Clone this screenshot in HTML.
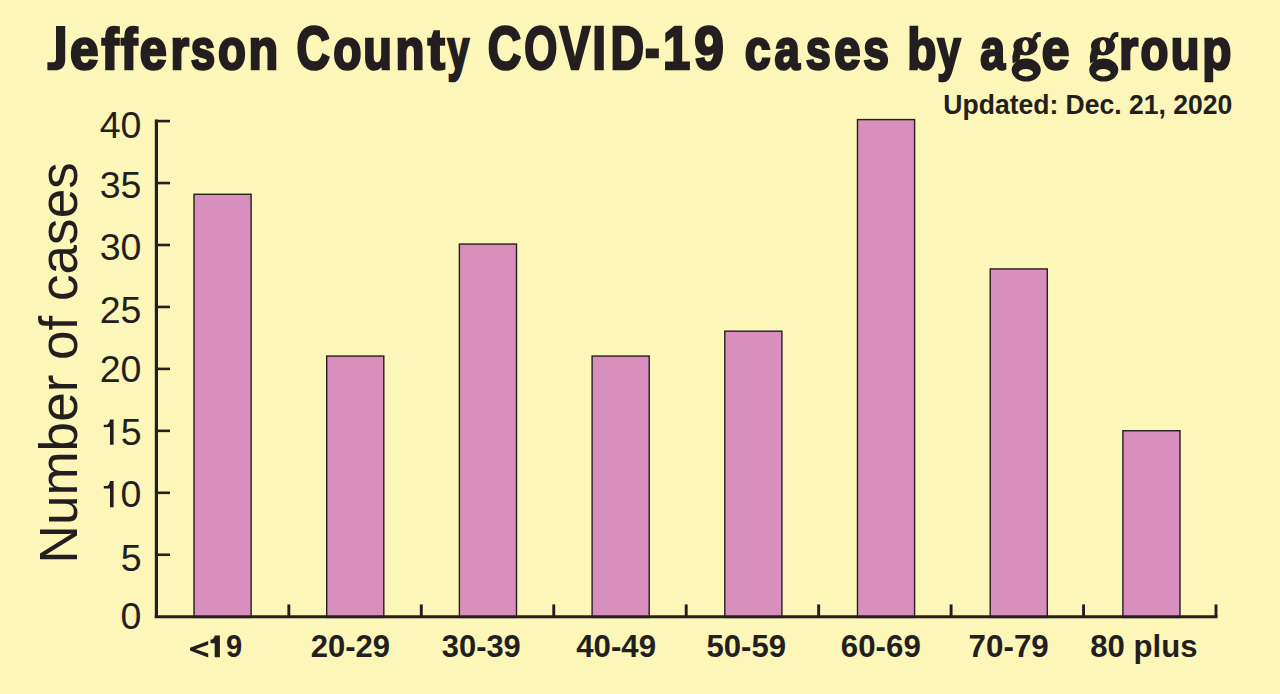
<!DOCTYPE html>
<html><head><meta charset="utf-8"><style>
html,body{margin:0;padding:0;background:#FCF6B8;width:1280px;height:694px;overflow:hidden}
svg{display:block;font-family:"Liberation Sans",sans-serif}
</style></head><body>
<svg width="1280" height="694" viewBox="0 0 1280 694">
<rect width="1280" height="694" fill="#FCF6B8"/>
<rect x="194.00" y="194.27" width="57.10" height="423.13" fill="#D98FBD" stroke="#231F20" stroke-width="1.4"/>
<rect x="326.70" y="356.06" width="57.10" height="261.35" fill="#D98FBD" stroke="#231F20" stroke-width="1.4"/>
<rect x="459.40" y="244.05" width="57.10" height="373.35" fill="#D98FBD" stroke="#231F20" stroke-width="1.4"/>
<rect x="592.10" y="356.06" width="57.10" height="261.35" fill="#D98FBD" stroke="#231F20" stroke-width="1.4"/>
<rect x="724.80" y="331.17" width="57.10" height="286.24" fill="#D98FBD" stroke="#231F20" stroke-width="1.4"/>
<rect x="857.50" y="119.60" width="57.10" height="497.80" fill="#D98FBD" stroke="#231F20" stroke-width="1.4"/>
<rect x="990.20" y="268.94" width="57.10" height="348.46" fill="#D98FBD" stroke="#231F20" stroke-width="1.4"/>
<rect x="1122.90" y="430.73" width="57.10" height="186.68" fill="#D98FBD" stroke="#231F20" stroke-width="1.4"/>
<path d="M156.40,119.60 V618.10" stroke="#231F20" stroke-width="3.2" fill="none"/>
<path d="M154.80,616.70 H1217.50" stroke="#231F20" stroke-width="2.9" fill="none"/>
<path d="M156.40,554.75 H170" stroke="#231F20" stroke-width="2.6" fill="none"/>
<path d="M156.40,492.80 H170" stroke="#231F20" stroke-width="2.6" fill="none"/>
<path d="M156.40,430.85 H170" stroke="#231F20" stroke-width="2.6" fill="none"/>
<path d="M156.40,368.90 H170" stroke="#231F20" stroke-width="2.6" fill="none"/>
<path d="M156.40,306.95 H170" stroke="#231F20" stroke-width="2.6" fill="none"/>
<path d="M156.40,245.00 H170" stroke="#231F20" stroke-width="2.6" fill="none"/>
<path d="M156.40,183.05 H170" stroke="#231F20" stroke-width="2.6" fill="none"/>
<path d="M156.40,121.10 H170" stroke="#231F20" stroke-width="2.6" fill="none"/>
<path d="M288.85,604.4 V616.70" stroke="#231F20" stroke-width="2.9" fill="none"/>
<path d="M421.30,604.4 V616.70" stroke="#231F20" stroke-width="2.9" fill="none"/>
<path d="M553.75,604.4 V616.70" stroke="#231F20" stroke-width="2.9" fill="none"/>
<path d="M686.20,604.4 V616.70" stroke="#231F20" stroke-width="2.9" fill="none"/>
<path d="M818.65,604.4 V616.70" stroke="#231F20" stroke-width="2.9" fill="none"/>
<path d="M951.10,604.4 V616.70" stroke="#231F20" stroke-width="2.9" fill="none"/>
<path d="M1083.55,604.4 V616.70" stroke="#231F20" stroke-width="2.9" fill="none"/>
<path d="M1216.00,604.4 V616.70" stroke="#231F20" stroke-width="2.9" fill="none"/>
<text transform="translate(70.11,68.75) scale(0.8885,1)" font-size="57.8" font-weight="bold" fill="#231F20" stroke="#231F20" stroke-width="2.6">e</text>
<text transform="translate(101.49,68.75) scale(0.8908,1)" font-size="57.8" font-weight="bold" fill="#231F20" stroke="#231F20" stroke-width="2.6">f</text>
<text transform="translate(120.82,68.75) scale(0.8643,1)" font-size="57.8" font-weight="bold" fill="#231F20" stroke="#231F20" stroke-width="2.6">f</text>
<text transform="translate(139.76,68.75) scale(0.8410,1)" font-size="57.8" font-weight="bold" fill="#231F20" stroke="#231F20" stroke-width="2.6">e</text>
<text transform="translate(170.44,68.75) scale(0.8244,1)" font-size="57.8" font-weight="bold" fill="#231F20" stroke="#231F20" stroke-width="2.6">r</text>
<text transform="translate(190.87,68.75) scale(0.7590,1)" font-size="57.8" font-weight="bold" fill="#231F20" stroke="#231F20" stroke-width="2.6">s</text>
<text transform="translate(217.96,68.75) scale(0.7895,1)" font-size="57.8" font-weight="bold" fill="#231F20" stroke="#231F20" stroke-width="2.6">o</text>
<text transform="translate(248.50,68.75) scale(0.8410,1)" font-size="57.8" font-weight="bold" fill="#231F20" stroke="#231F20" stroke-width="2.6">n</text>
<text transform="translate(296.56,68.75) scale(0.7558,1)" font-size="61.2" font-weight="bold" fill="#231F20" stroke="#231F20" stroke-width="2.6">C</text>
<text transform="translate(333.20,68.75) scale(0.8000,1)" font-size="57.8" font-weight="bold" fill="#231F20" stroke="#231F20" stroke-width="2.6">o</text>
<text transform="translate(363.17,68.75) scale(0.8130,1)" font-size="57.8" font-weight="bold" fill="#231F20" stroke="#231F20" stroke-width="2.6">u</text>
<text transform="translate(395.45,68.75) scale(0.8197,1)" font-size="57.8" font-weight="bold" fill="#231F20" stroke="#231F20" stroke-width="2.6">n</text>
<text transform="translate(427.68,68.75) scale(0.8908,1)" font-size="57.8" font-weight="bold" fill="#231F20" stroke="#231F20" stroke-width="2.6">t</text>
<text transform="translate(447.55,68.75) scale(0.6761,1)" font-size="57.8" font-weight="bold" fill="#231F20" stroke="#231F20" stroke-width="2.6">y</text>
<text transform="translate(487.81,68.75) scale(0.7558,1)" font-size="61.2" font-weight="bold" fill="#231F20" stroke="#231F20" stroke-width="2.6">C</text>
<text transform="translate(524.13,68.75) scale(0.6944,1)" font-size="61.2" font-weight="bold" fill="#231F20" stroke="#231F20" stroke-width="2.6">O</text>
<text transform="translate(559.86,68.75) scale(0.7429,1)" font-size="61.2" font-weight="bold" fill="#231F20" stroke="#231F20" stroke-width="2.6">V</text>
<text transform="translate(592.16,68.75) scale(0.8130,1)" font-size="61.2" font-weight="bold" fill="#231F20" stroke="#231F20" stroke-width="2.6">I</text>
<text transform="translate(610.41,68.75) scale(0.7602,1)" font-size="61.2" font-weight="bold" fill="#231F20" stroke="#231F20" stroke-width="2.6">D</text>
<text transform="translate(644.88,68.75) scale(0.7205,1)" font-size="61.2" font-weight="bold" fill="#231F20" stroke="#231F20" stroke-width="2.6">-</text>
<text transform="translate(663.00,68.75) scale(0.8000,1)" font-size="61.2" font-weight="bold" fill="#231F20" stroke="#231F20" stroke-width="2.6">1</text>
<text transform="translate(694.35,68.75) scale(0.8713,1)" font-size="61.2" font-weight="bold" fill="#231F20" stroke="#231F20" stroke-width="2.6">9</text>
<text transform="translate(744.79,68.75) scale(0.8065,1)" font-size="57.8" font-weight="bold" fill="#231F20" stroke="#231F20" stroke-width="2.6">c</text>
<text transform="translate(774.61,68.75) scale(0.7895,1)" font-size="57.8" font-weight="bold" fill="#231F20" stroke="#231F20" stroke-width="2.6">a</text>
<text transform="translate(805.86,68.75) scale(0.7787,1)" font-size="57.8" font-weight="bold" fill="#231F20" stroke="#231F20" stroke-width="2.6">s</text>
<text transform="translate(834.18,68.75) scale(0.8197,1)" font-size="57.8" font-weight="bold" fill="#231F20" stroke="#231F20" stroke-width="2.6">e</text>
<text transform="translate(863.35,68.75) scale(0.7984,1)" font-size="57.8" font-weight="bold" fill="#231F20" stroke="#231F20" stroke-width="2.6">s</text>
<text transform="translate(907.34,68.75) scale(0.8252,1)" font-size="57.8" font-weight="bold" fill="#231F20" stroke="#231F20" stroke-width="2.6">b</text>
<text transform="translate(937.34,68.75) scale(0.7277,1)" font-size="57.8" font-weight="bold" fill="#231F20" stroke="#231F20" stroke-width="2.6">y</text>
<text transform="translate(980.21,68.75) scale(0.7714,1)" font-size="57.8" font-weight="bold" fill="#231F20" stroke="#231F20" stroke-width="2.6">a</text>
<text transform="translate(1041.64,68.75) scale(0.8607,1)" font-size="57.8" font-weight="bold" fill="#231F20" stroke="#231F20" stroke-width="2.6">e</text>
<text transform="translate(1119.12,68.75) scale(0.8537,1)" font-size="57.8" font-weight="bold" fill="#231F20" stroke="#231F20" stroke-width="2.6">r</text>
<text transform="translate(1140.46,68.75) scale(0.7895,1)" font-size="57.8" font-weight="bold" fill="#231F20" stroke="#231F20" stroke-width="2.6">o</text>
<text transform="translate(1170.67,68.75) scale(0.8130,1)" font-size="57.8" font-weight="bold" fill="#231F20" stroke="#231F20" stroke-width="2.6">u</text>
<text transform="translate(1202.34,68.75) scale(0.8252,1)" font-size="57.8" font-weight="bold" fill="#231F20" stroke="#231F20" stroke-width="2.6">p</text>
<path fill="#231F20" d="M56,26.0 L65.2,26.0 L65.2,59.5 Q65.2,70.3 55,70.3 L47.4,70.3 L47.4,62.2 L53.2,62.2 Q56,62.2 56,58.8 Z"/>
<path fill="#231F20" fill-rule="nonzero" d="M1090.95,46.15 A12.05,9.25 0 1,0 1115.05,46.15 A12.05,9.25 0 1,0 1090.95,46.15 Z M1099.70,46.15 A3.25,6.05 0 1,1 1106.20,46.15 A3.25,6.05 0 1,1 1099.70,46.15 Z M1089.20,70.10 A14.55,11.50 0 1,0 1118.30,70.10 A14.55,11.50 0 1,0 1089.20,70.10 Z M1096.10,72.75 A7.25,3.65 0 1,1 1110.60,72.75 A7.25,3.65 0 1,1 1096.10,72.75 Z M1111.70,42.50 L1113.80,39.60 L1115.80,37.00 L1118.30,36.90 L1118.30,31.90 L1114.40,32.20 L1112.00,34.00 L1108.70,40.50 Z M1089.80,56.50 L1090.20,63.50 L1097.00,60.00 L1098.00,54.60 L1091.50,49.50 Z"/>
<path fill="#231F20" fill-rule="nonzero" d="M1013.45,46.15 A12.05,9.25 0 1,0 1037.55,46.15 A12.05,9.25 0 1,0 1013.45,46.15 Z M1022.20,46.15 A3.25,6.05 0 1,1 1028.70,46.15 A3.25,6.05 0 1,1 1022.20,46.15 Z M1011.70,70.10 A14.55,11.50 0 1,0 1040.80,70.10 A14.55,11.50 0 1,0 1011.70,70.10 Z M1018.60,72.75 A7.25,3.65 0 1,1 1033.10,72.75 A7.25,3.65 0 1,1 1018.60,72.75 Z M1034.20,42.50 L1036.30,39.60 L1038.30,37.00 L1040.80,36.90 L1040.80,31.90 L1036.90,32.20 L1034.50,34.00 L1031.20,40.50 Z M1012.30,56.50 L1012.70,63.50 L1019.50,60.00 L1020.50,54.60 L1014.00,49.50 Z"/>
<text transform="translate(226.08,657.40) scale(0.9161,1)" font-size="31.8" font-weight="bold" fill="#231F20">9</text>
<text transform="translate(310.73,657.40) scale(0.9747,1)" font-size="31.8" font-weight="bold" fill="#231F20">20-29</text>
<text transform="translate(441.77,657.40) scale(0.9716,1)" font-size="31.8" font-weight="bold" fill="#231F20">30-39</text>
<text transform="translate(576.21,657.40) scale(0.9824,1)" font-size="31.8" font-weight="bold" fill="#231F20">40-49</text>
<text transform="translate(706.52,657.40) scale(0.9785,1)" font-size="31.8" font-weight="bold" fill="#231F20">50-59</text>
<text transform="translate(840.87,657.40) scale(0.9829,1)" font-size="31.8" font-weight="bold" fill="#231F20">60-69</text>
<text transform="translate(968.57,657.40) scale(0.9867,1)" font-size="31.8" font-weight="bold" fill="#231F20">70-79</text>
<text transform="translate(1090.22,657.40) scale(0.9790,1)" font-size="31.8" font-weight="bold" fill="#231F20">80 plus</text>
<path d="M208.2,640.9 L190,647.8 L190,650.6 L208.2,657.4 L208.2,653.5 L195.6,649.2 L208.2,644.8 Z" fill="#231F20"/>
<path d="M214.7,635.4 L219.9,635.4 L219.9,657.3 L214.7,657.3 L214.7,643.3 L210.5,643.3 L210.5,639.6 C212.8,639.5 214.4,638.2 214.7,635.4 Z" fill="#231F20"/>
<text x="99.75" y="137.98" font-size="37.5" fill="#231F20">40</text>
<text x="99.75" y="197.65" font-size="37.5" fill="#231F20">35</text>
<text x="99.75" y="259.52" font-size="37.5" fill="#231F20">30</text>
<text x="99.75" y="322.85" font-size="37.5" fill="#231F20">25</text>
<text x="99.75" y="381.88" font-size="37.5" fill="#231F20">20</text>
<text x="120.75" y="445.02" font-size="37.5" fill="#231F20">5</text>
<path d="M110.00,419.60 L113.60,419.60 L113.60,444.70 L110.00,444.70 L110.00,427.10 L103.80,427.20 L103.80,424.80 L107.00,424.80 Q109.20,424.00 110.00,419.60 Z" fill="#231F20"/>
<text x="120.50" y="507.17" font-size="37.5" fill="#231F20">0</text>
<path d="M110.00,480.90 L113.60,480.90 L113.60,507.20 L110.00,507.20 L110.00,488.40 L103.80,488.50 L103.80,486.10 L107.00,486.10 Q109.20,485.30 110.00,480.90 Z" fill="#231F20"/>
<text x="120.75" y="571.15" font-size="37.5" fill="#231F20">5</text>
<text x="120.50" y="629.38" font-size="37.5" fill="#231F20">0</text>
<text transform="translate(943.32,113.50) scale(0.9582,1)" font-size="27.7" font-weight="bold" fill="#231F20">Updated: Dec. 21, 2020</text>
<text transform="translate(77,563.42) rotate(-90) scale(0.9829,1)" font-size="54" fill="#231F20">Number of cases</text>
</svg></body></html>
